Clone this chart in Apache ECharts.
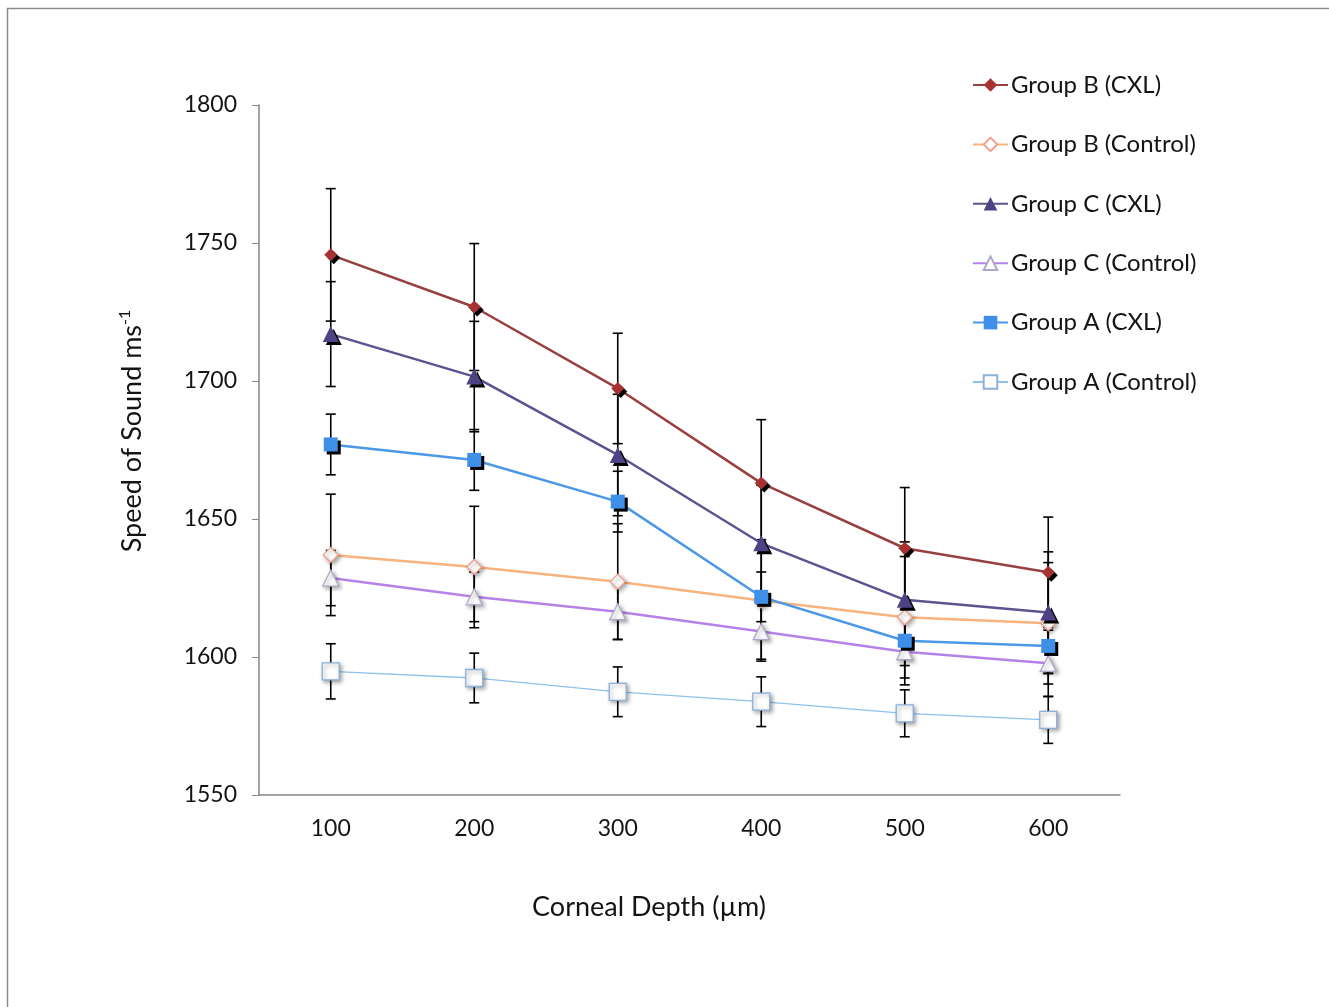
<!DOCTYPE html>
<html>
<head>
<meta charset="utf-8">
<script src="https://cdn.jsdelivr.net/npm/echarts@6/dist/echarts.min.js"></script>
<style>html,body{margin:0;padding:0;background:#fff}#c{width:1329px;height:1007px}</style>
</head>
<body>
<div id="c"></div>
<script>
const depths = ['100', '200', '300', '400', '500', '600'];
const yTicks = [1550, 1600, 1650, 1700, 1750, 1800];

const groupBCxl = [1745.7, 1726.8, 1697.3, 1663.0, 1639.4, 1630.7];
const groupBCxlErr = [24, 23, 20, 23, 22, 20];
const groupBControl = [1637.0, 1632.6, 1627.3, 1620.5, 1614.4, 1612.2];
const groupBControlErr = [22, 22, 21, 22, 22, 22];
const groupCCxl = [1717.0, 1701.6, 1673.2, 1641.2, 1620.7, 1616.1];
const groupCCxlErr = [19, 20, 22, 21, 21, 22];
const groupCControl = [1628.6, 1621.8, 1616.4, 1609.2, 1601.9, 1597.7];
const groupCControlErr = [10, 9, 10, 10, 12, 12];
const groupACxl = [1677.0, 1671.4, 1656.3, 1621.8, 1605.9, 1604.0];
const groupACxlErr = [11, 11, 11, 9, 9, 10];
const groupAControl = [1594.8, 1592.4, 1587.4, 1583.8, 1579.6, 1577.2];
const groupAControlErr = [10, 9, 9, 9, 8.5, 8.5];

const FONT = 'Lato';
const TXT = '#141414';

function errSeries(vals, errs, z) {
  return {
    type: 'custom',
    z: z,
    silent: true,
    data: vals.map((v, i) => [i, v, errs[i]]),
    encode: { x: 0, y: 1 },
    renderItem: function (params, api) {
      const x = api.value(0), y = api.value(1), e = api.value(2);
      const t = api.coord([x, y + e]);
      const b = api.coord([x, y - e]);
      const st = { stroke: '#000', lineWidth: 1.6 };
      return {
        type: 'group',
        children: [
          { type: 'line', shape: { x1: t[0], y1: t[1], x2: b[0], y2: b[1] }, style: st },
          { type: 'line', shape: { x1: t[0] - 5, y1: t[1], x2: t[0] + 5, y2: t[1] }, style: st },
          { type: 'line', shape: { x1: b[0] - 5, y1: b[1], x2: b[0] + 5, y2: b[1] }, style: st }
        ]
      };
    }
  };
}

function lineSeries(name, vals, opt) {
  return {
    name: name,
    type: 'line',
    data: vals,
    z: 5,
    symbol: opt.symbol,
    symbolSize: opt.size,
    showAllSymbol: true,
    lineStyle: { color: opt.line, width: opt.width },
    itemStyle: Object.assign({ color: opt.fill, borderColor: opt.border, borderWidth: opt.bw }, opt.shadow),
    emphasis: { disabled: true }
  };
}

const cxlShadow = { shadowColor: '#000', shadowBlur: 0, shadowOffsetX: 3, shadowOffsetY: 3 };
const ctlShadow = { shadowColor: 'rgba(0,0,0,0.35)', shadowBlur: 4, shadowOffsetX: 2, shadowOffsetY: 2 };

const chart = echarts.init(document.getElementById('c'));
chart.setOption({
  animation: false,
  backgroundColor: '#fff',
  grid: { left: 259, right: 209, top: 105, bottom: 212, containLabel: false },
  xAxis: {
    type: 'category',
    data: depths,
    boundaryGap: true,
    axisLine: { lineStyle: { color: '#868686', width: 1.5 } },
    axisTick: { show: false },
    axisLabel: { color: TXT, fontFamily: FONT, fontSize: 23, margin: 22 },
    splitLine: { show: false }
  },
  yAxis: {
    type: 'value',
    min: 1550, max: 1800, interval: 50,
    axisLine: { show: true, lineStyle: { color: '#868686', width: 1.5 } },
    axisTick: { show: true, length: 7, lineStyle: { color: '#868686' } },
    axisLabel: { color: TXT, fontFamily: FONT, fontSize: 23, margin: 22,
      formatter: v => yTicks.includes(v) ? String(v) : '' },
    splitLine: { show: false }
  },
  legend: {
    orient: 'vertical',
    left: 967,
    top: 68,
    itemWidth: 35,
    itemHeight: 17,
    itemGap: 35.4,
    textStyle: { color: TXT, fontFamily: FONT, fontSize: 24, lineHeight: 24, padding: [0, 0, 0, -2] },
    itemStyle: { shadowColor: 'rgba(0,0,0,0)', shadowOffsetX: 0, shadowOffsetY: 0, shadowBlur: 0 },
    data: ['Group B (CXL)', 'Group B (Control)', 'Group C (CXL)', 'Group C (Control)', 'Group A (CXL)', 'Group A (Control)']
  },
  graphic: [
    { type: 'rect', silent: true, z: -10, shape: { x: 7.5, y: 8.5, width: 1400, height: 1100 },
      style: { fill: 'none', stroke: '#8c8c8c', lineWidth: 1.5 } },
    { type: 'text', x: 132, y: 431, rotation: Math.PI / 2,
      style: { text: 'Speed of Sound ms{sup|-1}', font: '27px ' + FONT, fill: TXT,
        align: 'center', verticalAlign: 'middle',
        rich: { sup: { fontFamily: FONT, fontSize: 16, verticalAlign: 'top', padding: [0, 0, 14, 0], fill: TXT } } } },
    { type: 'text', x: 649, y: 907,
      style: { text: 'Corneal Depth (\u00b5m)', font: '27px ' + FONT, fill: TXT, align: 'center', verticalAlign: 'middle' } }
  ],
  series: [
    errSeries(groupBCxl, groupBCxlErr, 2),
    errSeries(groupBControl, groupBControlErr, 2),
    errSeries(groupCCxl, groupCCxlErr, 2),
    errSeries(groupCControl, groupCControlErr, 2),
    errSeries(groupACxl, groupACxlErr, 2),
    errSeries(groupAControl, groupAControlErr, 2),
    lineSeries('Group B (CXL)', groupBCxl, { symbol: 'diamond', size: 13, line: '#98403f', width: 2.5, fill: '#a83232', border: '#a83232', bw: 0, shadow: cxlShadow }),
    lineSeries('Group B (Control)', groupBControl, { symbol: 'diamond', size: 15, line: '#f8b47f', width: 2.5, fill: '#fff', border: '#f0a08c', bw: 1.3, shadow: ctlShadow }),
    lineSeries('Group C (CXL)', groupCCxl, { symbol: 'triangle', size: 16, line: '#5e5290', width: 2.5, fill: '#4f4284', border: '#4f4284', bw: 0, shadow: cxlShadow }),
    lineSeries('Group C (Control)', groupCControl, { symbol: 'triangle', size: 16, line: '#b583e8', width: 2.5, fill: '#fff', border: '#b0a8c8', bw: 1.3, shadow: ctlShadow }),
    lineSeries('Group A (CXL)', groupACxl, { symbol: 'rect', size: 14, line: '#4b98e6', width: 2.5, fill: '#3f8fe6', border: '#3f8fe6', bw: 0, shadow: cxlShadow }),
    lineSeries('Group A (Control)', groupAControl, { symbol: 'rect', size: 17, line: '#8fc1ee', width: 1.3, fill: '#fff', border: '#8cb0d8', bw: 1.3, shadow: ctlShadow })
  ]
});
</script>
</body>
</html>
